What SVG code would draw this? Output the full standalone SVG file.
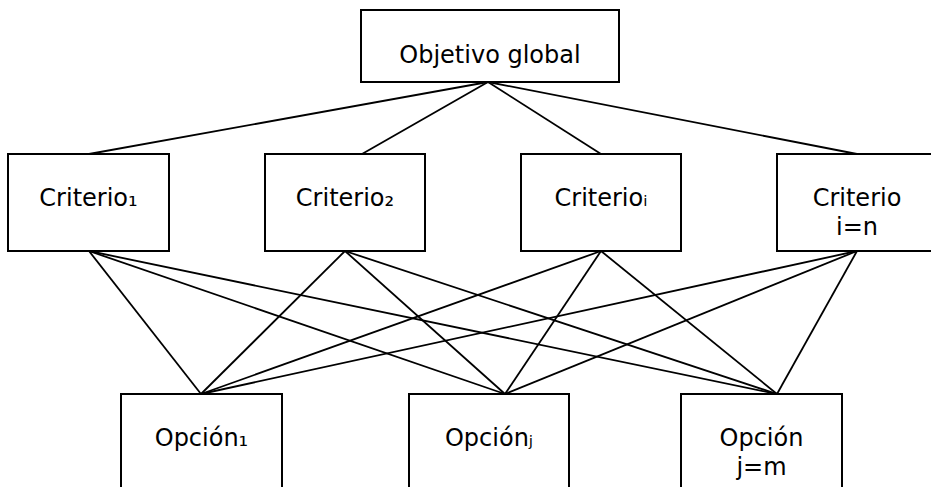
<svg xmlns="http://www.w3.org/2000/svg" width="931" height="487" viewBox="0 0 931 487">
<style>
.box{fill:#fff;stroke:#000;stroke-width:2}
.ln{stroke:#000;stroke-width:1.8;fill:none}
text{font-family:"DejaVu Sans","Verdana",sans-serif;font-size:24px;fill:#000;text-anchor:middle}
</style>
<rect width="931" height="487" fill="#fff"/>
<g id="connectors">
<line class="ln" x1="488" y1="82" x2="89" y2="154"/>
<line class="ln" x1="488" y1="82" x2="362" y2="154"/>
<line class="ln" x1="488" y1="82" x2="601" y2="154"/>
<line class="ln" x1="488" y1="82" x2="857" y2="154"/>
<line class="ln" x1="89" y1="251" x2="201" y2="394"/>
<line class="ln" x1="89" y1="251" x2="505" y2="394"/>
<line class="ln" x1="89" y1="251" x2="777" y2="394"/>
<line class="ln" x1="345" y1="251" x2="201" y2="394"/>
<line class="ln" x1="345" y1="251" x2="505" y2="394"/>
<line class="ln" x1="345" y1="251" x2="777" y2="394"/>
<line class="ln" x1="601" y1="251" x2="201" y2="394"/>
<line class="ln" x1="601" y1="251" x2="505" y2="394"/>
<line class="ln" x1="601" y1="251" x2="777" y2="394"/>
<line class="ln" x1="857" y1="251" x2="201" y2="394"/>
<line class="ln" x1="857" y1="251" x2="505" y2="394"/>
<line class="ln" x1="857" y1="251" x2="777" y2="394"/>
</g>
<g id="objetivo">
<rect class="box" x="361" y="10" width="258" height="72"/>
<text x="490" y="63">Objetivo global</text>
</g>
<g id="criterio1">
<rect class="box" x="8" y="154" width="161" height="97"/>
<text x="88.5" y="206">Criterio₁</text>
</g>
<g id="criterio2">
<rect class="box" x="265" y="154" width="160" height="97"/>
<text x="345" y="206">Criterio₂</text>
</g>
<g id="criterioi">
<rect class="box" x="521" y="154" width="160" height="97"/>
<text x="601" y="206">Criterioᵢ</text>
</g>
<g id="criterion">
<rect class="box" x="777" y="154" width="160" height="97"/>
<text x="857" y="206">Criterio</text>
<text x="857" y="235">i=n</text>
</g>
<g id="opcion1">
<rect class="box" x="121" y="394" width="161" height="110"/>
<text x="201.5" y="446">Opción₁</text>
</g>
<g id="opcionj">
<rect class="box" x="409" y="394" width="160" height="110"/>
<text x="489" y="446">Opciónⱼ</text>
</g>
<g id="opcionm">
<rect class="box" x="681" y="394" width="161" height="110"/>
<text x="761.5" y="446">Opción</text>
<text x="761.5" y="475">j=m</text>
</g>
</svg>
